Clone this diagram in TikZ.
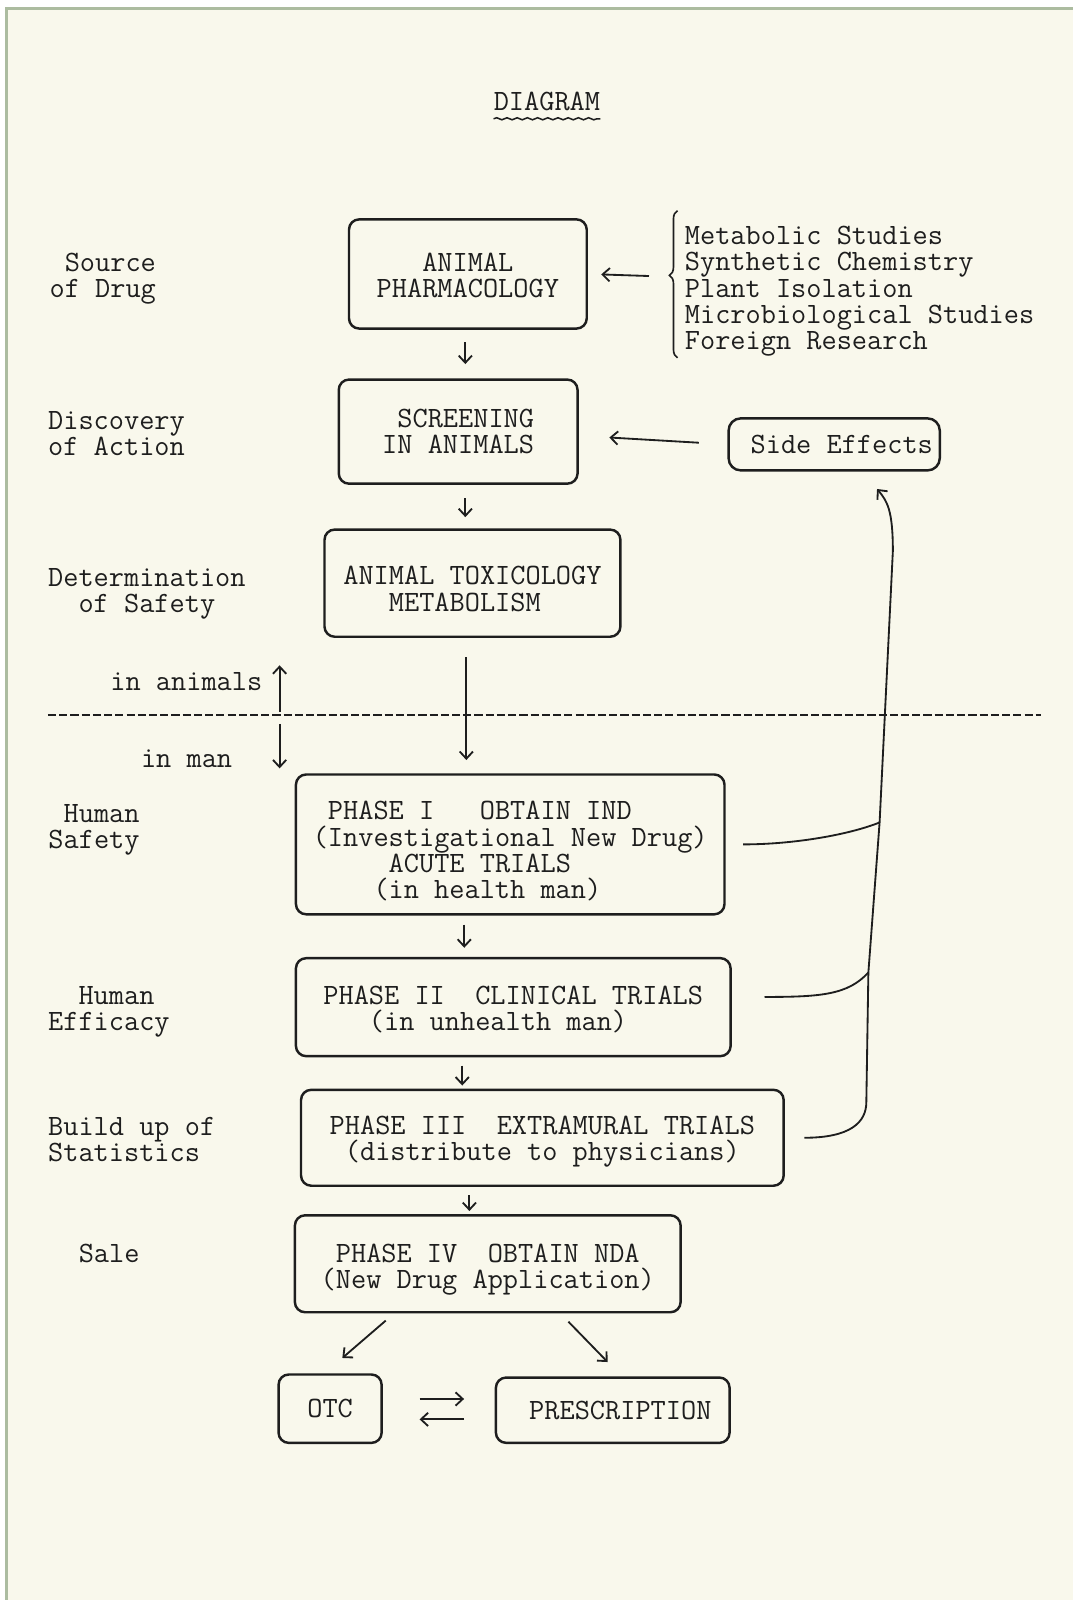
\documentclass[tikz,border=0pt]{standalone}
\usepackage{fontspec}
\usepackage{tikz}
\usetikzlibrary{arrows}
\usetikzlibrary{arrows.meta}
\usetikzlibrary{decorations.pathmorphing}
\usetikzlibrary{decorations.pathreplacing}
\definecolor{paper}{RGB}{249,248,236}
\definecolor{frame}{RGB}{172,188,160}
\definecolor{ink}{RGB}{30,30,30}
\tikzset{typed/.style={font=\ttfamily\fontsize{28.9}{25.8}\selectfont, text=ink, inner sep=0pt}}
\tikzset{stage/.style={typed, draw=ink, line width=2.4pt, rounded corners=10pt, align=left}}
\tikzset{arr/.style={-{Straight Barb[length=7pt,width=13pt]}, draw=ink, line width=1.8pt}}
\tikzset{link/.style={draw=ink, line width=1.8pt}}

\begin{document}
\begin{tikzpicture}[x=1pt, y=-1pt]
	\useasboundingbox (0,0) rectangle (1052,1568);
	\fill[white] (0,0) rectangle (1052,1568);
	\fill[paper] (5,7) rectangle (1052,1568);
	\draw[frame, line width=3pt] (6.5,1568) -- (6.5,8.5) -- (1052,8.5);

	% title
	\node[typed] (title) at (536,99) {DIAGRAM};
	\draw[link, line width=1.5pt, decorate, decoration={snake, amplitude=1pt, segment length=10pt}]
		([yshift=-8pt]title.south west) -- ([yshift=-8pt]title.south east);

	% left column
	\node[typed, anchor=east, align=right] (source) at (153,273) {Source\\of Drug};
	\node[typed, anchor=west, align=left] (discovery) at (47,425) {Discovery\\of Action};
	\node[typed, anchor=west, align=center] (safety) at (47,582) {Determination\\of Safety};
	\node[typed, anchor=west] (animals) at (108,668) {in animals};
	\node[typed, anchor=west] (man) at (138,744) {in man};
	\node[typed, anchor=east, align=right] (hsafety) at (137,813) {Human\\Safety};
	\node[typed, anchor=west, align=left] (efficacy) at (47,991.5) {\null~~Human\\Efficacy};
	\node[typed, anchor=west, align=left] (stats) at (47,1116.5) {Build up of\\Statistics};
	\node[typed, anchor=west] (sale) at (77,1228) {Sale};

	% stages
	\node[stage, align=center, minimum width=233pt, minimum height=107pt] (pharm) at (458.5,268.5) {\rule{0pt}{20.7pt}ANIMAL\\PHARMACOLOGY};
	\node[stage, minimum width=234pt, minimum height=102pt] (screen) at (449,423) {\null~SCREENING\\IN ANIMALS};
	\node[stage, minimum width=290pt, minimum height=105pt] (toxic) at (463,571.5) {\rule{0pt}{29.7pt}ANIMAL TOXICOLOGY\\\null~~~METABOLISM};
	\node[stage, minimum width=420pt, minimum height=137pt] (phase1) at (500,827.5)
		{\rule{0pt}{31.7pt}\null~PHASE I~~~OBTAIN IND\\(Investigational New Drug)\\\null~~~~~ACUTE TRIALS\\\null~~~~(in health man)};
	\node[stage, minimum width=426pt, minimum height=96pt] (phase2) at (503,987)
		{\rule{0pt}{22.7pt}PHASE II~~CLINICAL TRIALS\\\null~~~(in unhealth man)};
	\node[stage, minimum width=473pt, minimum height=94pt] (phase3) at (531.5,1115)
		{\rule{0pt}{25.7pt}PHASE III~~EXTRAMURAL TRIALS\\\null~(distribute to physicians)};
	\node[stage, minimum width=378pt, minimum height=95pt] (phase4) at (478,1238.5)
		{\rule{0pt}{29.7pt}\null~PHASE IV~~OBTAIN NDA\\(New Drug Application)};
	\node[stage, align=center, minimum width=101pt, minimum height=67pt] (otc) at (323.5,1380.5) {OTC};
	\node[stage, align=center, minimum width=229pt, minimum height=64pt] (presc) at (600.5,1382) {\null~PRESCRIPTION};
	\node[stage, align=center, rounded corners=12pt, minimum width=207pt, minimum height=51pt] (side) at (817.5,435.5) {\null~Side Effects};

	% sources
	\node[typed, anchor=west, align=left] (sources) at (671,285.5)
		{Metabolic Studies\\Synthetic Chemistry\\Plant Isolation\\Microbiological Studies\\Foreign Research};
	\draw[link, line width=1.6pt, decorate, decoration={brace, amplitude=8pt, aspect=0.56}]
		([xshift=-7pt,yshift=-1pt]sources.south west) -- ([xshift=-7pt,yshift=15pt]sources.north west);
	\draw[arr, shorten >=13pt] ([xshift=-35pt,yshift=15pt]sources.west) -- (pharm.east);
	\draw[arr, shorten <=28pt, shorten >=30pt] (side.west) -- ([yshift=-4pt]screen.east);

	% main flow
	\draw[arr, shorten <=12pt, shorten >=14pt] ([xshift=-2.5pt]pharm.south) -- ([xshift=7pt]screen.north);
	\draw[arr, shorten <=13pt, shorten >=11pt] ([xshift=7pt]screen.south) -- ([xshift=-7pt]toxic.north);
	\draw[arr, shorten <=19pt, shorten >=13pt] ([xshift=-6pt]toxic.south) -- ([xshift=-43pt]phase1.north);
	\draw[arr, shorten <=9pt, shorten >=9pt] ([xshift=-45pt]phase1.south) -- ([xshift=-48pt]phase2.north);
	\draw[arr, shorten <=8pt, shorten >=3pt] ([xshift=-50pt]phase2.south) -- ([xshift=-78.5pt]phase3.north);
	\draw[arr, shorten <=8pt, shorten >=3pt] ([xshift=-71.5pt]phase3.south) -- ([xshift=-18pt]phase4.north);
	\draw[arr] ([xshift=-100pt,yshift=-7pt]phase4.south) -- ([xshift=12pt,yshift=15pt]otc.north);
	\draw[arr] ([xshift=79pt,yshift=-8pt]phase4.south) -- ([xshift=-5pt,yshift=14pt]presc.north);
	\draw[arr, shorten <=36pt, shorten >=30pt] ([yshift=9.5pt]otc.east) -- ([yshift=11pt]presc.west);
	\draw[arr, shorten <=30pt, shorten >=36pt] ([yshift=-9pt]presc.west) -- ([yshift=-10.5pt]otc.east);

	% animals / man
	\coordinate (cut) at (274,703.5);
	\coordinate (uptip) at (274,652);
	\coordinate (downtip) at (274,753);
	\coordinate (cutL) at (47,701);
	\coordinate (cutR) at (1020,701);
	\draw[link, line width=1.6pt, dash pattern=on 8pt off 3pt] (cutL) -- (cutR);
	\draw[arr, shorten <=6pt] (cut) -- (uptip);
	\draw[arr, shorten <=6pt] (cut) -- (downtip);

	% feedback to side effects
	\coordinate (fbbot) at (849,1080);
	\coordinate (fbmid) at (851,953);
	\coordinate (fbtop) at (862,806);
	\coordinate (fbend) at (875,540);
	\draw[arr] ([xshift=19pt]phase3.east) .. controls +(45,0) and +(0,20) .. (fbbot) -- (fbmid) -- (fbtop) -- (fbend)
		.. controls +(0,-40) and +(10,12) .. ([xshift=42pt,yshift=-17pt]side.south);
	\draw[link] ([xshift=17pt]phase1.east) .. controls +(50,0) and +(-30,12) .. (fbtop);
	\draw[link] ([xshift=32pt,yshift=10pt]phase2.east) .. controls +(55,0) and +(-20,22) .. (fbmid);
\end{tikzpicture}
\end{document}
